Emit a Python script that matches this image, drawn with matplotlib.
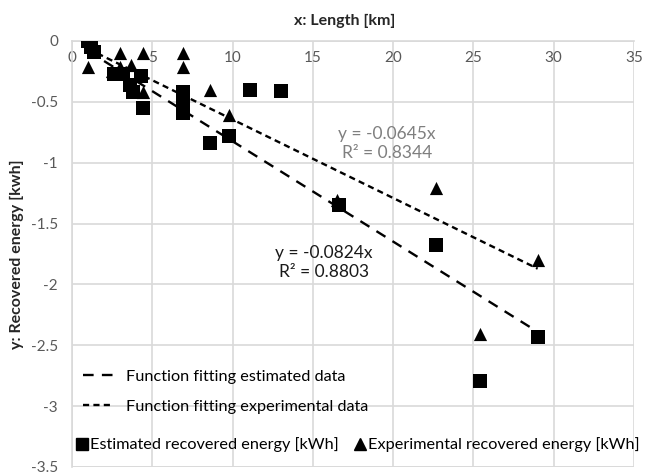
import numpy as np
import matplotlib
matplotlib.use("Agg")
import matplotlib.pyplot as plt
from matplotlib.lines import Line2D

plt.rcParams['font.family'] = ['Lato', 'DejaVu Sans']

# estimated recovered energy (squares)
est_x = [1.0, 1.2, 1.4, 2.6, 3.2, 3.6, 3.8, 4.3, 4.4, 6.9, 6.9, 6.9,
         8.6, 9.8, 11.1, 13.0, 16.6, 22.7, 25.4, 29.0]
est_y = [0.0, -0.05, -0.09, -0.27, -0.27, -0.36, -0.42, -0.29, -0.55, -0.42, -0.52, -0.59,
         -0.84, -0.78, -0.40, -0.41, -1.35, -1.68, -2.79, -2.43]

# experimental recovered energy (triangles)
exp_x = [1.0, 1.1, 2.5, 3.0, 3.0, 3.7, 4.4, 4.4, 6.9, 6.9,
         8.6, 9.8, 16.5, 22.7, 25.4, 29.0]
exp_y = [-0.21, -0.02, -0.25, -0.10, -0.21, -0.20, -0.10, -0.42, -0.10, -0.21,
         -0.40, -0.61, -1.31, -1.21, -2.41, -1.80]

slope_est = -0.0824
slope_exp = -0.0645
r2_est = 0.8803
r2_exp = 0.8344
fit_x = np.array([1.0, 29.0])

fig = plt.figure(figsize=(6.56, 4.74), dpi=100)
ax = fig.add_axes([72 / 656, 1 - 467 / 474, (634 - 72) / 656, (467 - 41) / 474])

grid_c = '#d9d9d9'
text_c = '#595959'

ax.set_xlim(0, 35)
ax.set_ylim(-3.5, 0)
ax.set_xticks(np.arange(0, 36, 5))
ax.set_yticks(np.arange(-3.5, 0.01, 0.5))
ax.set_yticklabels(['-3.5', '-3', '-2.5', '-2', '-1.5', '-1', '-0.5', '0'])
ax.grid(True, color=grid_c, linewidth=1.2)
ax.set_axisbelow(True)

for s in ['top', 'right']:
    ax.spines[s].set_visible(False)
ax.spines['left'].set_color(grid_c)
ax.spines['left'].set_linewidth(1.2)
ax.spines['bottom'].set_position(('data', 0))
ax.spines['bottom'].set_color(grid_c)
ax.spines['bottom'].set_linewidth(1.2)
ax.tick_params(axis='both', length=0, labelsize=11, labelcolor=text_c)
ax.tick_params(axis='y', pad=10)
ax.tick_params(axis='x', pad=7)
ax.axhline(-3.5, color=grid_c, linewidth=1.2, zorder=0)

# fitted lines
l_est, = ax.plot(fit_x, slope_est * fit_x, color='black', linewidth=1.7, zorder=3)
l_est.set_dashes((4.5, 3.5))
l_exp, = ax.plot(fit_x, slope_exp * fit_x, color='black', linewidth=1.7, zorder=3)
l_exp.set_dashes((2.6, 1.8))

ax.scatter(est_x, est_y, marker='s', s=100, color='black', zorder=4, linewidths=0)
ax.scatter(exp_x, exp_y, marker='^', s=90, color='black', zorder=4, linewidths=0)

ax.text(19.6, -0.84, f'y = {slope_exp}x\nR\u00b2 = {r2_exp}', color='#7f7f7f',
        fontsize=12.5, ha='center', va='center', linespacing=1.2)
ax.text(15.7, -1.82, f'y = {slope_est}x\nR\u00b2 = {r2_est}', color='#1a1a1a',
        fontsize=12.5, ha='center', va='center', linespacing=1.2)

leg1 = ax.legend([l_est, l_exp], ['Function fitting estimated data', 'Function fitting experimental data'],
                 loc='upper left', bbox_to_anchor=(0.0, 0.255), frameon=False, fontsize=11.7,
                 handlelength=1.9, handletextpad=0.7, labelspacing=0.95, borderaxespad=0.3)
ax.add_artist(leg1)

h_sq = Line2D([], [], marker='s', color='black', linestyle='none', markersize=9)
h_tr = Line2D([], [], marker='^', color='black', linestyle='none', markersize=9)
ax.legend([h_sq, h_tr], ['Estimated recovered energy [kWh]', 'Experimental recovered energy [kWh]'],
          loc='upper left', bbox_to_anchor=(-0.005, 0.085), frameon=False, fontsize=11.7, ncol=2,
          handlelength=0.8, handletextpad=0.1, columnspacing=0.9, borderaxespad=0.0)

fig.text(345 / 656, 1 - 21 / 474, 'x: Length [km]', ha='center', va='center',
         fontsize=11.5, fontweight='bold', color='#262626')
fig.text(17 / 656, 1 - 254 / 474, 'y: Recovered energy [kwh]', ha='center', va='center',
         rotation=90, fontsize=11.5, fontweight='bold', color='#262626')

fig.savefig('out.png', dpi=100)
